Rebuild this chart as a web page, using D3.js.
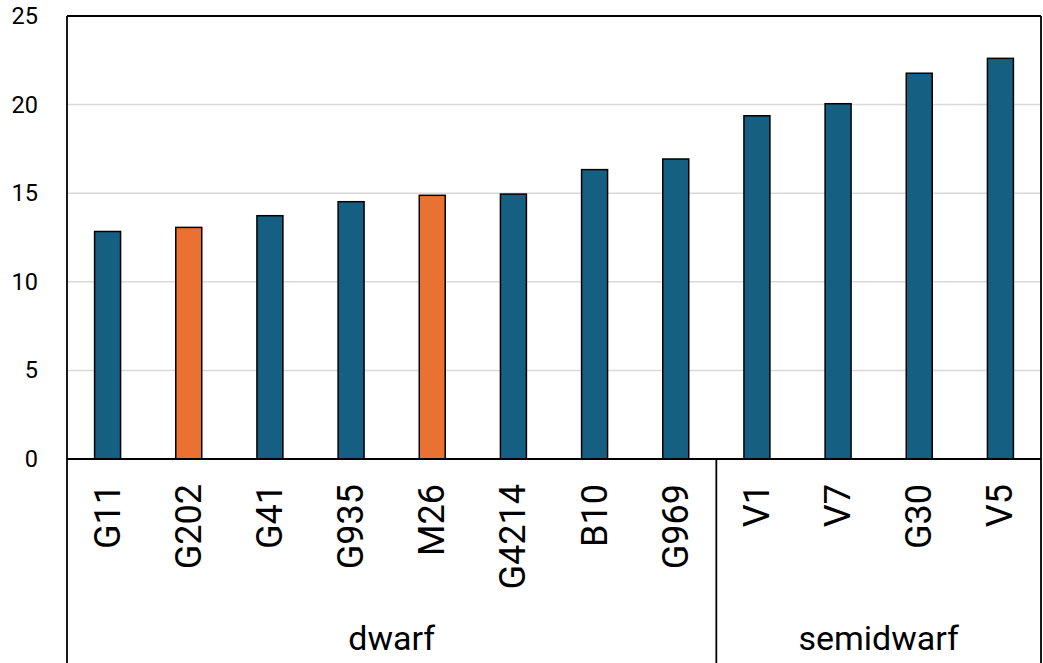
<!DOCTYPE html>
<html>
<head>
<meta charset="utf-8">
<script src="https://cdn.jsdelivr.net/npm/d3@7"></script>
<style>
  html, body { margin: 0; padding: 0; background: #fff; }
  svg { display: block; font-family: Roboto, "Liberation Sans", sans-serif; }
</style>
</head>
<body>
<svg id="chart" width="1043" height="663"></svg>
<script>
// Varieties, their group, and measured values
const varieties = ["G11", "G202", "G41", "G935", "M26", "G4214", "B10", "G969", "V1", "V7", "G30", "V5"];
const groups    = ["dwarf", "dwarf", "dwarf", "dwarf", "dwarf", "dwarf", "dwarf", "dwarf",
                   "semidwarf", "semidwarf", "semidwarf", "semidwarf"];
const values    = [12.84, 13.07, 13.73, 14.52, 14.88, 14.95, 16.33, 16.93, 19.37, 20.05, 21.77, 22.61];
const highlighted = ["G202", "M26"];
const yTicks    = [0, 5, 10, 15, 20, 25];

const BLUE = "#156082", ORANGE = "#E97132";

const svg = d3.select("#chart");
const plotLeft = 67, plotRight = 1041, plotTop = 16, plotBase = 459, chartBottom = 663;

const x = d3.scaleBand().domain(varieties).range([plotLeft, plotRight]).paddingInner(0).paddingOuter(0);
const y = d3.scaleLinear().domain([0, 25]).range([plotBase, plotTop]);

// Gridlines
svg.append("g").selectAll("line").data(yTicks.filter(t => t > 0 && t < 25)).join("line")
  .attr("x1", plotLeft).attr("x2", plotRight)
  .attr("y1", d => y(d)).attr("y2", d => y(d))
  .attr("stroke", "#d9d9d9").attr("stroke-width", 1.5);

// Y axis labels
const yAxis = d3.axisLeft(y).tickValues(yTicks).tickSize(0).tickPadding(29);
svg.append("g").attr("transform", `translate(${plotLeft},0)`).call(yAxis)
  .call(g => g.select(".domain").remove())
  .call(g => g.selectAll("text").attr("font-size", 23.5).attr("fill", "#000")
    .attr("font-family", "Roboto, 'Liberation Sans', sans-serif"));

// Bars
const bw = x.bandwidth() * 0.32;
svg.append("g").selectAll("rect").data(varieties).join("rect")
  .attr("x", d => x(d) + x.bandwidth() / 2 - bw / 2)
  .attr("width", bw)
  .attr("y", (d, i) => y(values[i]))
  .attr("height", (d, i) => y(0) - y(values[i]))
  .attr("fill", d => highlighted.includes(d) ? ORANGE : BLUE)
  .attr("stroke", "#000").attr("stroke-width", 1.5);

// Frame and category axis lines
const frame = svg.append("g").attr("stroke", "#000").attr("stroke-width", 1.8).attr("fill", "none");
frame.append("line").attr("x1", plotLeft).attr("x2", plotRight).attr("y1", plotTop).attr("y2", plotTop);
frame.append("line").attr("x1", plotLeft).attr("x2", plotLeft).attr("y1", plotTop).attr("y2", chartBottom);
frame.append("line").attr("x1", plotRight).attr("x2", plotRight).attr("y1", plotTop).attr("y2", chartBottom);
frame.append("line").attr("x1", plotLeft).attr("x2", plotRight).attr("y1", plotBase).attr("y2", plotBase);

// Variety labels, rotated
svg.append("g").selectAll("text").data(varieties).join("text")
  .attr("transform", d => `translate(${x(d) + x.bandwidth() / 2 + 12},484) rotate(-90)`)
  .attr("text-anchor", "end")
  .attr("font-size", 36)
  .attr("fill", "#000")
  .text(d => d);

// Group labels and separators
const groupNames = Array.from(new Set(groups));
const spans = groupNames.map(g => {
  const members = varieties.filter((v, i) => groups[i] === g);
  return { name: g, x0: x(members[0]), x1: x(members[members.length - 1]) + x.bandwidth() };
});
frame.selectAll("line.sep").data(spans.slice(1)).join("line")
  .attr("class", "sep")
  .attr("x1", d => d.x0).attr("x2", d => d.x0)
  .attr("y1", plotBase).attr("y2", chartBottom);
svg.append("g").selectAll("text").data(spans).join("text")
  .attr("x", d => (d.x0 + d.x1) / 2)
  .attr("y", 650)
  .attr("text-anchor", "middle")
  .attr("font-size", 34)
  .attr("fill", "#000")
  .text(d => d.name);
</script>
</body>
</html>
